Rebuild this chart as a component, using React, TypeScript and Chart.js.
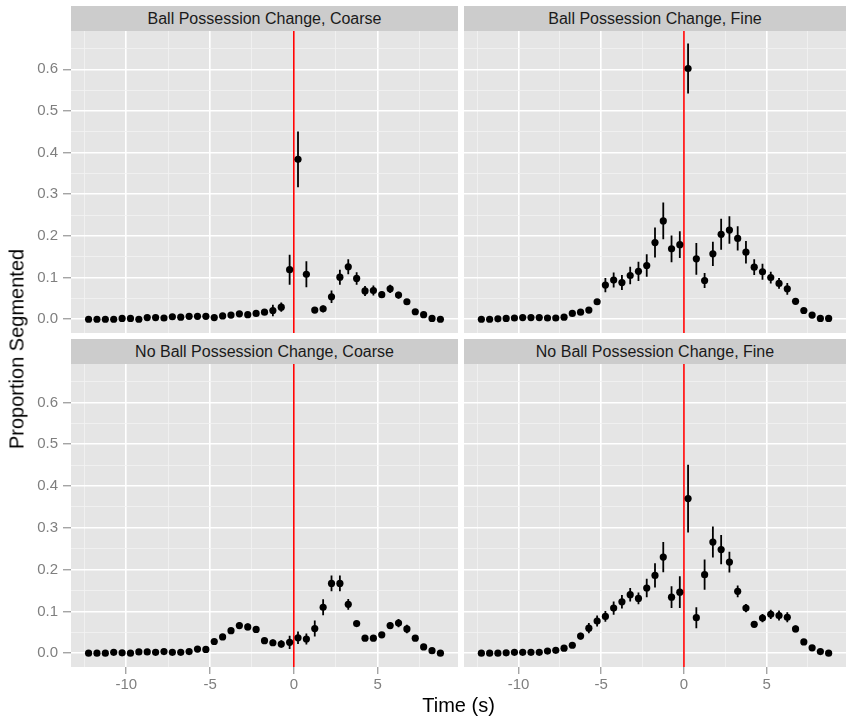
import React, { useEffect, useRef } from 'react';
import { Chart, registerables } from 'chart.js';

Chart.register(...registerables);

// ---------------- DATA ----------------
const TIMES = [
  -12.25, -11.75, -11.25, -10.75, -10.25, -9.75, -9.25, -8.75, -8.25, -7.75,
  -7.25, -6.75, -6.25, -5.75, -5.25, -4.75, -4.25, -3.75, -3.25, -2.75,
  -2.25, -1.75, -1.25, -0.75, -0.25, 0.25, 0.75, 1.25, 1.75, 2.25,
  2.75, 3.25, 3.75, 4.25, 4.75, 5.25, 5.75, 6.25, 6.75, 7.25,
  7.75, 8.25, 8.75,
];

const BPC_COARSE = [0, 0, 0, 0, 0.002, 0.002, 0, 0.004, 0.004, 0.003, 0.006, 0.005, 0.007, 0.007, 0.007, 0.004, 0.008, 0.010, 0.013, 0.011, 0.014, 0.017, 0.021, 0.029, 0.119, 0.384, 0.108, 0.022, 0.025, 0.054, 0.101, 0.126, 0.098, 0.068, 0.069, 0.059, 0.073, 0.058, 0.042, 0.018, 0.011, 0.002, 0];
const BPC_COARSE_ERR = [0, 0, 0, 0, 0, 0, 0, 0, 0, 0, 0, 0, 0, 0, 0, 0, 0, 0.003, 0.004, 0.003, 0.005, 0.007, 0.014, 0.011, 0.036, 0.067, 0.031, 0.006, 0.008, 0.015, 0.018, 0.018, 0.015, 0.012, 0.012, 0.008, 0.010, 0.008, 0.005, 0.003, 0.002, 0, 0];

const BPC_FINE = [0, 0, 0.001, 0.002, 0.003, 0.004, 0.004, 0.004, 0.003, 0.003, 0.005, 0.014, 0.017, 0.022, 0.042, 0.082, 0.094, 0.088, 0.105, 0.115, 0.129, 0.184, 0.236, 0.169, 0.179, 0.602, 0.145, 0.093, 0.157, 0.204, 0.214, 0.194, 0.161, 0.125, 0.114, 0.100, 0.086, 0.073, 0.043, 0.021, 0.010, 0.002, 0.002];
const BPC_FINE_ERR = [0, 0, 0, 0, 0, 0, 0, 0, 0, 0, 0.002, 0.004, 0.005, 0.005, 0.006, 0.017, 0.018, 0.018, 0.021, 0.023, 0.027, 0.036, 0.044, 0.032, 0.032, 0.060, 0.038, 0.018, 0.029, 0.037, 0.033, 0.029, 0.027, 0.019, 0.019, 0.014, 0.013, 0.014, 0.005, 0.003, 0.002, 0, 0];

const NBPC_COARSE = [0, 0, 0, 0.002, 0.001, 0, 0.003, 0.003, 0.002, 0.004, 0.002, 0.002, 0.004, 0.010, 0.009, 0.028, 0.039, 0.054, 0.066, 0.063, 0.057, 0.030, 0.025, 0.022, 0.026, 0.037, 0.034, 0.059, 0.110, 0.167, 0.167, 0.117, 0.071, 0.036, 0.036, 0.044, 0.066, 0.072, 0.058, 0.036, 0.015, 0.006, 0];
const NBPC_COARSE_ERR = [0, 0, 0, 0, 0, 0, 0, 0, 0, 0, 0, 0, 0, 0.003, 0.003, 0.004, 0.005, 0.006, 0.008, 0.008, 0.008, 0.005, 0.008, 0.009, 0.016, 0.015, 0.013, 0.019, 0.019, 0.019, 0.019, 0.013, 0.006, 0.004, 0.004, 0.005, 0.008, 0.010, 0.010, 0.005, 0.003, 0.002, 0];

const NBPC_FINE = [0, 0, 0, 0.001, 0.002, 0.002, 0.002, 0.002, 0.005, 0.007, 0.012, 0.019, 0.041, 0.060, 0.077, 0.088, 0.108, 0.123, 0.140, 0.131, 0.156, 0.186, 0.230, 0.134, 0.146, 0.370, 0.085, 0.188, 0.266, 0.248, 0.218, 0.148, 0.108, 0.069, 0.084, 0.093, 0.090, 0.086, 0.058, 0.027, 0.013, 0.004, 0];
const NBPC_FINE_ERR = [0, 0, 0, 0, 0, 0, 0, 0, 0, 0.002, 0.003, 0.004, 0.008, 0.012, 0.013, 0.013, 0.016, 0.016, 0.016, 0.014, 0.022, 0.029, 0.036, 0.026, 0.038, 0.081, 0.025, 0.036, 0.037, 0.035, 0.025, 0.014, 0.010, 0.006, 0.010, 0.011, 0.012, 0.012, 0.008, 0.004, 0.003, 0.002, 0];

const X_TICKS = [-12.5, -10, -7.5, -5, -2.5, 0, 2.5, 5, 7.5];
const X_LABELS = ['', '-10', '', '-5', '', '0', '', '5', ''];
const Y_TICKS = [0, 0.05, 0.1, 0.15, 0.2, 0.25, 0.3, 0.35, 0.4, 0.45, 0.5, 0.55, 0.6, 0.65];
const Y_LABELS = ['0.0', '', '0.1', '', '0.2', '', '0.3', '', '0.4', '', '0.5', '', '0.6', ''];
const EVENT_TIME = 0;

const PANEL_TITLES = [
  'Ball Possession Change, Coarse',
  'Ball Possession Change, Fine',
  'No Ball Possession Change, Coarse',
  'No Ball Possession Change, Fine',
];
const X_TITLE = 'Time (s)';
const Y_TITLE = 'Proportion Segmented';

// ---------------- LAYOUT ----------------
const FONT = '"Liberation Sans", Arial, Helvetica, sans-serif';
const PLOT_L = [71, 464];
const PLOT_R = [458, 846];
const PLOT_T = [31, 364];
const PLOT_B = [333, 667];
const STRIP_H = 25;
const BOTTOM_EDGE = 700;
const X_MIN = -13.3;
const X_MAX = 9.8;
const Y_MIN = -0.033;
const Y_MAX = 0.692;

const bgPlugin = {
  id: 'panelBg',
  beforeDraw(chart: any) {
    const { ctx, chartArea: a } = chart;
    ctx.save();
    ctx.fillStyle = '#e5e5e5';
    ctx.fillRect(a.left, a.top, a.right - a.left, a.bottom - a.top);
    ctx.restore();
  },
};

const zeroPad = (s: any) => {
  s.paddingTop = 0;
  s.paddingBottom = 0;
  s.paddingLeft = 0;
  s.paddingRight = 0;
};

type PanelProps = { vals: number[]; errs: number[]; col: number; row: number; title: string };

function Panel({ vals, errs, col, row, title }: PanelProps) {
  const ref = useRef<HTMLCanvasElement | null>(null);
  const showY = col === 0;
  const showX = row === 1;
  const left = showY ? 0 : PLOT_L[col];
  const width = PLOT_R[col] - left;
  const top = PLOT_T[row];
  const height = (showX ? BOTTOM_EDGE : PLOT_B[row]) - top;
  const yAxisW = showY ? PLOT_L[0] : 0;
  const xAxisH = showX ? BOTTOM_EDGE - PLOT_B[row] : 0;

  useEffect(() => {
    if (!ref.current) return;
    const points = TIMES.map((t, i) => ({ x: t, y: vals[i] }));
    const bars: any[] = [];
    TIMES.forEach((t, i) => {
      if (errs[i] > 0) {
        bars.push({ x: t, y: vals[i] - errs[i] });
        bars.push({ x: t, y: vals[i] + errs[i] });
        bars.push({ x: t, y: null });
      }
    });
    const chart = new Chart(ref.current, {
      type: 'scatter',
      data: {
        datasets: [
          {
            type: 'scatter',
            data: points,
            pointRadius: 3.6,
            pointHoverRadius: 3.6,
            pointBackgroundColor: '#000000',
            pointBorderWidth: 0,
            showLine: false,
            order: 0,
          } as any,
          {
            type: 'line',
            data: bars,
            borderColor: '#000000',
            borderWidth: 1.8,
            pointRadius: 0,
            spanGaps: false,
            order: 1,
          } as any,
          {
            type: 'line',
            data: [
              { x: EVENT_TIME, y: -1 },
              { x: EVENT_TIME, y: 1 },
            ],
            borderColor: '#ff0000',
            borderWidth: 1.6,
            pointRadius: 0,
            order: 2,
          } as any,
        ],
      },
      options: {
        animation: false,
        responsive: false,
        devicePixelRatio: 1,
        layout: { padding: 0, autoPadding: false },
        plugins: { legend: { display: false }, tooltip: { enabled: false } },
        events: [],
        scales: {
          x: {
            type: 'linear',
            min: X_MIN,
            max: X_MAX,
            afterBuildTicks: (s: any) => {
              s.ticks = X_TICKS.map((v) => ({ value: v }));
            },
            afterFit: (s: any) => {
              s.height = xAxisH;
              zeroPad(s);
            },
            ticks: {
              display: showX,
              autoSkip: false,
              maxRotation: 0,
              color: '#7f7f7f',
              padding: 2,
              font: { family: FONT, size: 15 },
              callback: (_v: any, i: number) => X_LABELS[i],
            },
            grid: {
              color: (c: any) => (X_LABELS[c.index] ? '#ffffff' : '#f2f2f2'),
              lineWidth: (c: any) => (X_LABELS[c.index] ? 1.6 : 0.8),
              drawTicks: showX,
              tickLength: 7,
              tickWidth: 1,
              tickColor: (c: any) => (X_LABELS[c.index] ? '#7f7f7f' : 'rgba(0,0,0,0)'),
            },
            border: { display: false },
          },
          y: {
            type: 'linear',
            min: Y_MIN,
            max: Y_MAX,
            afterBuildTicks: (s: any) => {
              s.ticks = Y_TICKS.map((v) => ({ value: v }));
            },
            afterFit: (s: any) => {
              s.width = yAxisW;
              zeroPad(s);
            },
            ticks: {
              display: showY,
              autoSkip: false,
              color: '#7f7f7f',
              padding: 5,
              font: { family: FONT, size: 15 },
              callback: (_v: any, i: number) => Y_LABELS[i],
            },
            grid: {
              color: (c: any) => (Y_LABELS[c.index] ? '#ffffff' : '#f2f2f2'),
              lineWidth: (c: any) => (Y_LABELS[c.index] ? 1.6 : 0.8),
              drawTicks: showY,
              tickLength: 8,
              tickWidth: 1,
              tickColor: (c: any) => (Y_LABELS[c.index] ? '#7f7f7f' : 'rgba(0,0,0,0)'),
            },
            border: { display: false },
          },
        },
      } as any,
      plugins: [bgPlugin],
    });
    return () => chart.destroy();
  }, []);

  return (
    <>
      <div
        style={{
          position: 'absolute',
          left: PLOT_L[col],
          top: PLOT_T[row] - STRIP_H,
          width: PLOT_R[col] - PLOT_L[col],
          height: STRIP_H,
          background: '#cccccc',
          color: '#1a1a1a',
          fontFamily: FONT,
          fontSize: 16,
          lineHeight: `${STRIP_H}px`,
          textAlign: 'center',
          whiteSpace: 'nowrap',
        }}
      >
        {title}
      </div>
      <canvas
        ref={ref}
        width={width}
        height={height}
        style={{ position: 'absolute', left, top, width, height }}
      />
    </>
  );
}

export default function App() {
  return (
    <div
      style={{
        position: 'fixed',
        left: 0,
        top: 0,
        width: 846,
        height: 719,
        background: '#ffffff',
        overflow: 'hidden',
      }}
    >
      <Panel vals={BPC_COARSE} errs={BPC_COARSE_ERR} col={0} row={0} title={PANEL_TITLES[0]} />
      <Panel vals={BPC_FINE} errs={BPC_FINE_ERR} col={1} row={0} title={PANEL_TITLES[1]} />
      <Panel vals={NBPC_COARSE} errs={NBPC_COARSE_ERR} col={0} row={1} title={PANEL_TITLES[2]} />
      <Panel vals={NBPC_FINE} errs={NBPC_FINE_ERR} col={1} row={1} title={PANEL_TITLES[3]} />
      <div
        style={{
          position: 'absolute',
          left: (PLOT_L[0] + PLOT_R[1]) / 2,
          top: 705,
          transform: 'translate(-50%, -50%)',
          fontFamily: FONT,
          fontSize: 20,
          color: '#000000',
          whiteSpace: 'nowrap',
        }}
      >
        {X_TITLE}
      </div>
      <div
        style={{
          position: 'absolute',
          left: 17,
          top: (PLOT_T[0] + PLOT_B[1]) / 2,
          transform: 'translate(-50%, -50%) rotate(-90deg)',
          fontFamily: FONT,
          fontSize: 20,
          color: '#000000',
          whiteSpace: 'nowrap',
        }}
      >
        {Y_TITLE}
      </div>
    </div>
  );
}
